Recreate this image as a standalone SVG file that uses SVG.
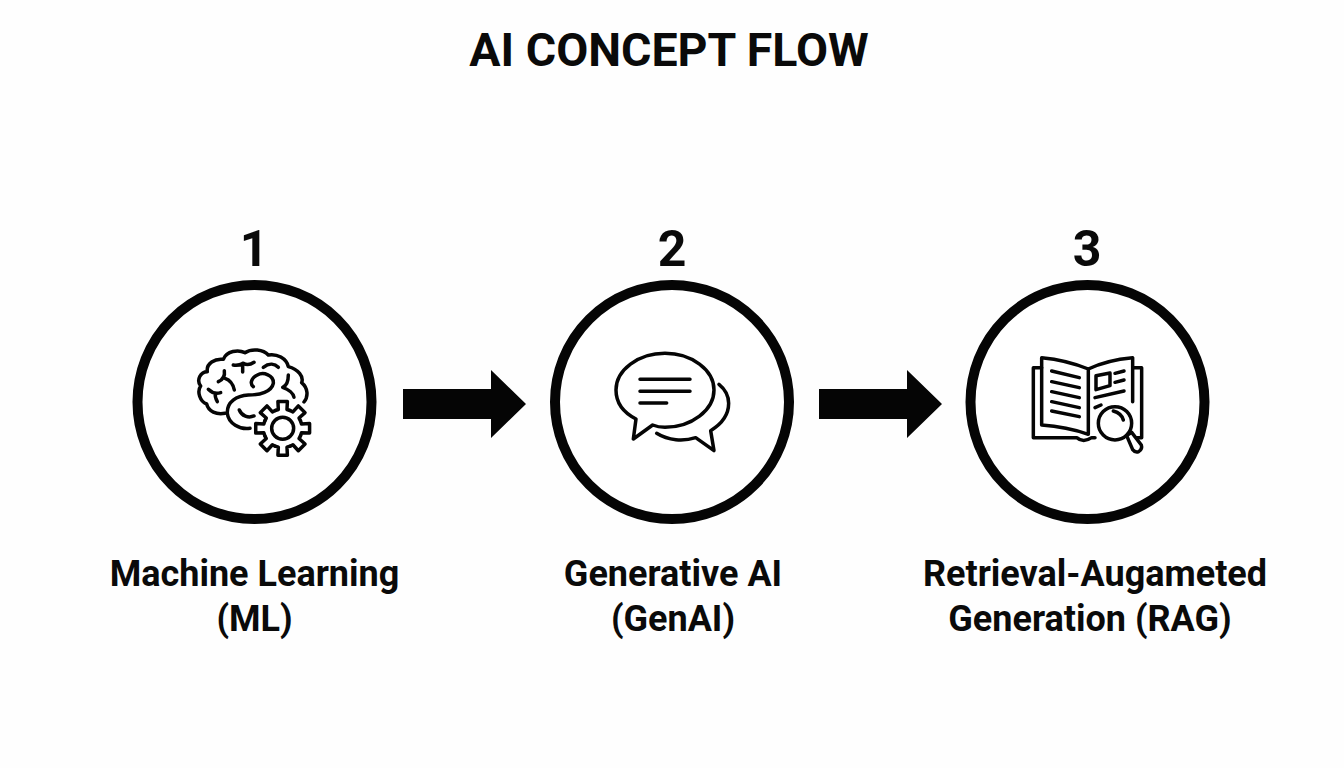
<svg xmlns="http://www.w3.org/2000/svg" xmlns:xlink="http://www.w3.org/1999/xlink" width="1344" height="768" viewBox="0 0 1344 768">
<style>
text{font-family:Roboto,"Liberation Sans",sans-serif;font-weight:700;fill:#0a0a0a;text-anchor:middle}
.title{font-size:46.500px}
.num{font-size:50px}
.lab{font-size:36px}
.ring{fill:#fff;stroke:#050505;stroke-width:10}
.ic{fill:none;stroke:#050505;stroke-width:10.500;stroke-linecap:round;stroke-linejoin:round}
.arrow{fill:#050505}
</style>
<defs>
<path id="tooth" d="M-22.2 -53.6L-13 -56.5L-14.2 -80.8L14.2 -80.8L13 -56.5L22.2 -53.6"/>
</defs>
<rect width="1344" height="768" fill="#fefefe"/>
<text id="title" class="title" x="669" y="66">AI CONCEPT FLOW</text>
<g id="connectors">
<path class="arrow" d="M403 389H491V370L526 404L491 438V419H403Z"/>
<path class="arrow" d="M819 389H907V370L942 404L907 438V419H819Z"/>
</g>
<g id="node1">
<text class="num" x="254" y="266">1</text>
<circle class="ring" cx="254.500" cy="402" r="117"/>
<g class="ic" transform="translate(180 330) scale(.3333)">
<path d="M135 250C110 255 85 245 80 222C60 215 50 185 62 168C48 150 62 125 82 125C78 100 105 85 130 88C140 62 175 58 195 68C215 55 250 58 265 75C290 70 320 85 325 110C355 118 372 140 365 158C385 175 385 200 372 216"/>
<path d="M210 295C180 300 145 280 142 250C140 215 170 197 205 195C240 195 275 185 280 160C282 135 250 125 232 135C215 143 208 160 220 170"/>
<path d="M178 240C185 258 205 265 222 258"/>
<path d="M160 105C172 108 182 104 190 100C198 105 210 105 222 97M188 100L188 126"/>
<path d="M133 122C135 135 130 148 115 155M135 145C150 150 160 165 163 180"/>
<path d="M85 178C95 188 110 192 122 188M106 190C104 200 108 208 112 215"/>
<path d="M250 112C268 98 285 102 295 112"/>
<path d="M325 135C325 155 318 168 308 172C325 178 340 190 342 202"/>
<g transform="translate(308 295)">
<use xlink:href="#tooth"/>
<use xlink:href="#tooth" transform="rotate(45)"/>
<use xlink:href="#tooth" transform="rotate(90)"/>
<use xlink:href="#tooth" transform="rotate(135)"/>
<use xlink:href="#tooth" transform="rotate(180)"/>
<use xlink:href="#tooth" transform="rotate(225)"/>
<use xlink:href="#tooth" transform="rotate(270)"/>
<use xlink:href="#tooth" transform="rotate(315)"/>
<circle r="33"/>
</g>
</g>
<text class="lab" x="254.500" y="586">Machine Learning</text>
<text class="lab" x="254.500" y="631">(ML)</text>
</g>
<g id="node2">
<text class="num" x="672" y="266">2</text>
<circle class="ring" cx="672" cy="402" r="117"/>
<g class="ic" transform="translate(600 340) scale(.3333)">
<path d="M108 237C65 215 48 185 48 150C48 90 115 40 195 40C275 40 342 90 342 150C342 210 275 262 195 262C182 262 170 260 158 255L100 297Z"/>
<path d="M120 118H270M120 154H270M120 189H200"/>
<path d="M357 133C378 150 386 170 386 190C386 225 365 252 332 272L342 332L287 293C250 305 205 302 170 280"/>
</g>
<text class="lab" x="673" y="586">Generative AI</text>
<text class="lab" x="673" y="631">(GenAI)</text>
</g>
<g id="node3">
<text class="num" x="1087" y="266">3</text>
<circle class="ring" cx="1087.500" cy="402" r="117"/>
<g class="ic" transform="translate(1020 345) scale(.3333)">
<path d="M65 38Q140 45 205 72V268Q140 245 65 240Z"/>
<path d="M205 72Q260 45 338 38V170"/>
<path d="M65 68H40V278H170Q190 295 215 278H225"/>
<path d="M338 68H365V278H342"/>
<path d="M95 78L178 98M95 110L178 128M95 140L178 158M95 170L178 188M95 198L178 215"/>
<path d="M228 92L270 84V122L228 134Z"/>
<path d="M285 85L312 78M285 112L312 105M225 158L312 138M225 188L243 180"/>
<circle cx="285" cy="235" r="50" fill="#fff"/>
<path d="M280 198Q305 205 310 225"/>
<path d="M320 272L335 262L364 300Q368 312 356 320Q346 324 338 314Z" fill="#fff"/>
</g>
<text class="lab" x="1095" y="586">Retrieval-Augameted</text>
<text class="lab" x="1090" y="631">Generation (RAG)</text>
</g>
</svg>
